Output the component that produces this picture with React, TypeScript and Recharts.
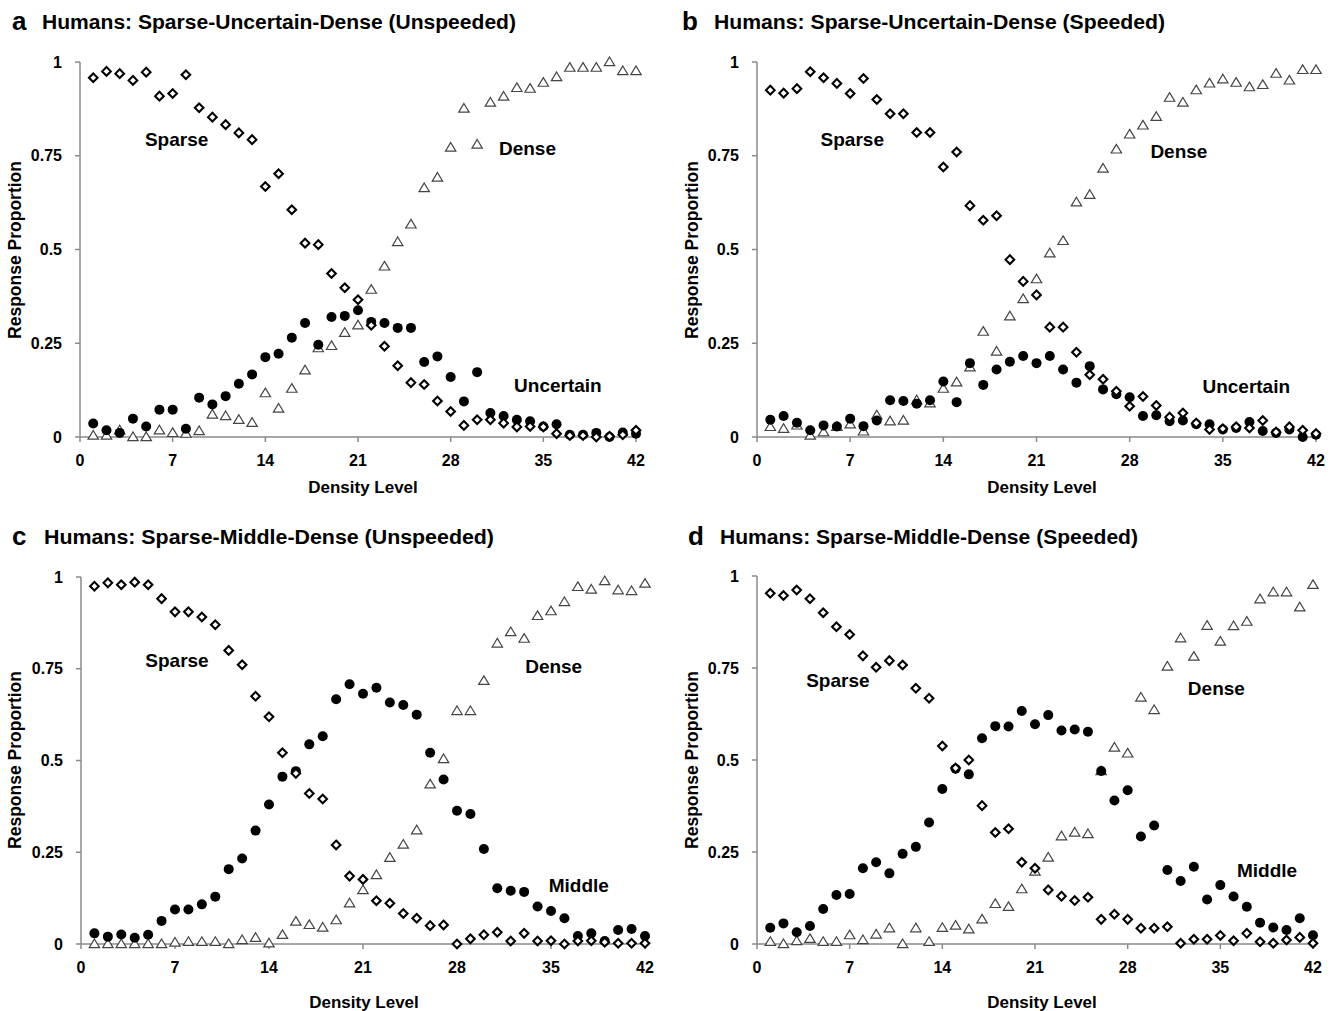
import React from 'react';
import { ScatterChart, Scatter, XAxis, YAxis, ReferenceDot } from 'recharts';

const levels = [1, 2, 3, 4, 5, 6, 7, 8, 9, 10, 11, 12, 13, 14, 15, 16, 17, 18, 19, 20, 21, 22, 23, 24, 25, 26, 27, 28, 29, 30, 31, 32, 33, 34, 35, 36, 37, 38, 39, 40, 41, 42];
const xTicks = [0, 7, 14, 21, 28, 35, 42];
const yTicks = [0, 0.25, 0.5, 0.75, 1];

// Panel a: Sparse-Uncertain-Dense (Unspeeded)
const sparseA = [0.958, 0.975, 0.969, 0.951, 0.973, 0.909, 0.916, 0.966, 0.878, 0.853, 0.833, 0.811, 0.793, 0.668, 0.702, 0.606, 0.517, 0.513, 0.436, 0.398, 0.366, 0.298, 0.242, 0.19, 0.145, 0.14, 0.096, 0.068, 0.031, 0.046, 0.046, 0.037, 0.027, 0.028, 0.027, 0.009, 0.004, 0.004, 0.0, 0.002, 0.006, 0.018];
const denseA = [0.004, 0.004, 0.018, 0.0, 0.0, 0.018, 0.011, 0.009, 0.016, 0.06, 0.056, 0.046, 0.038, 0.117, 0.076, 0.129, 0.178, 0.237, 0.243, 0.278, 0.298, 0.393, 0.455, 0.52, 0.567, 0.664, 0.692, 0.772, 0.876, 0.78, 0.892, 0.908, 0.931, 0.929, 0.945, 0.96, 0.985, 0.985, 0.985, 1.0, 0.976, 0.976];
const uncertainA = [0.036, 0.018, 0.011, 0.049, 0.028, 0.073, 0.073, 0.022, 0.105, 0.087, 0.109, 0.142, 0.167, 0.213, 0.222, 0.265, 0.304, 0.246, 0.32, 0.323, 0.338, 0.307, 0.304, 0.291, 0.291, 0.2, 0.215, 0.16, 0.095, 0.173, 0.064, 0.056, 0.046, 0.042, 0.028, 0.034, 0.006, 0.006, 0.011, 0.0, 0.012, 0.009];

// Panel b: Sparse-Uncertain-Dense (Speeded)
const sparseB = [0.925, 0.917, 0.929, 0.974, 0.958, 0.943, 0.916, 0.956, 0.9, 0.862, 0.862, 0.812, 0.812, 0.72, 0.76, 0.617, 0.578, 0.59, 0.473, 0.415, 0.379, 0.293, 0.293, 0.226, 0.166, 0.154, 0.122, 0.082, 0.108, 0.084, 0.053, 0.064, 0.037, 0.02, 0.022, 0.027, 0.024, 0.044, 0.013, 0.027, 0.018, 0.009];
const denseB = [0.027, 0.022, 0.031, 0.004, 0.013, 0.027, 0.034, 0.015, 0.058, 0.042, 0.044, 0.098, 0.09, 0.129, 0.146, 0.186, 0.281, 0.228, 0.322, 0.368, 0.421, 0.49, 0.523, 0.626, 0.646, 0.716, 0.767, 0.807, 0.831, 0.854, 0.905, 0.892, 0.925, 0.943, 0.954, 0.945, 0.933, 0.939, 0.969, 0.951, 0.979, 0.979];
const uncertainB = [0.046, 0.056, 0.038, 0.018, 0.031, 0.028, 0.049, 0.029, 0.044, 0.098, 0.096, 0.089, 0.098, 0.148, 0.093, 0.197, 0.139, 0.18, 0.201, 0.216, 0.197, 0.216, 0.18, 0.145, 0.189, 0.127, 0.114, 0.106, 0.056, 0.058, 0.042, 0.044, 0.034, 0.034, 0.02, 0.024, 0.04, 0.016, 0.011, 0.02, 0.0, 0.006];

// Panel c: Sparse-Middle-Dense (Unspeeded)
const sparseC = [0.975, 0.984, 0.979, 0.986, 0.979, 0.941, 0.905, 0.905, 0.891, 0.87, 0.8, 0.761, 0.675, 0.619, 0.521, 0.465, 0.41, 0.395, 0.27, 0.185, 0.176, 0.118, 0.111, 0.083, 0.07, 0.05, 0.052, 0.0, 0.014, 0.025, 0.032, 0.008, 0.029, 0.008, 0.009, 0.0, 0.008, 0.009, 0.005, 0.002, 0.002, 0.002];
const denseC = [0.0, 0.0, 0.0, 0.0, 0.0, 0.0, 0.004, 0.006, 0.006, 0.006, 0.0, 0.011, 0.017, 0.002, 0.025, 0.061, 0.052, 0.045, 0.065, 0.111, 0.147, 0.188, 0.235, 0.271, 0.31, 0.435, 0.504, 0.635, 0.635, 0.717, 0.819, 0.85, 0.832, 0.894, 0.907, 0.932, 0.973, 0.966, 0.989, 0.964, 0.962, 0.982];
const middleC = [0.029, 0.02, 0.026, 0.017, 0.025, 0.063, 0.094, 0.094, 0.108, 0.129, 0.204, 0.233, 0.309, 0.38, 0.456, 0.471, 0.544, 0.566, 0.667, 0.708, 0.682, 0.698, 0.658, 0.651, 0.625, 0.521, 0.448, 0.363, 0.354, 0.259, 0.152, 0.145, 0.142, 0.102, 0.09, 0.07, 0.022, 0.029, 0.008, 0.038, 0.041, 0.022];

// Panel d: Sparse-Middle-Dense (Speeded)
const sparseD = [0.953, 0.947, 0.962, 0.938, 0.9, 0.862, 0.841, 0.783, 0.752, 0.77, 0.758, 0.695, 0.668, 0.538, 0.478, 0.5, 0.376, 0.303, 0.313, 0.222, 0.206, 0.147, 0.13, 0.118, 0.127, 0.067, 0.081, 0.067, 0.043, 0.043, 0.047, 0.002, 0.013, 0.013, 0.023, 0.009, 0.029, 0.006, 0.002, 0.011, 0.018, 0.002];
const denseD = [0.006, 0.0, 0.008, 0.014, 0.006, 0.006, 0.024, 0.011, 0.026, 0.043, 0.0, 0.043, 0.006, 0.044, 0.05, 0.04, 0.067, 0.109, 0.101, 0.149, 0.197, 0.235, 0.293, 0.303, 0.299, 0.47, 0.534, 0.518, 0.67, 0.636, 0.754, 0.831, 0.781, 0.865, 0.822, 0.864, 0.876, 0.937, 0.956, 0.956, 0.915, 0.976];
const middleD = [0.044, 0.056, 0.032, 0.049, 0.095, 0.133, 0.136, 0.206, 0.222, 0.192, 0.245, 0.264, 0.33, 0.421, 0.476, 0.461, 0.559, 0.592, 0.591, 0.633, 0.597, 0.622, 0.58, 0.583, 0.577, 0.47, 0.39, 0.418, 0.292, 0.322, 0.201, 0.171, 0.21, 0.121, 0.16, 0.129, 0.101, 0.058, 0.045, 0.038, 0.07, 0.024];

// Annotation labels (data coordinates)
const notesA = [
  { text: 'Sparse', x: 7.3, y: 0.795 },
  { text: 'Dense', x: 33.8, y: 0.771 },
  { text: 'Uncertain', x: 36.1, y: 0.139 },
];
const notesB = [
  { text: 'Sparse', x: 7.16, y: 0.794 },
  { text: 'Dense', x: 31.7, y: 0.763 },
  { text: 'Uncertain', x: 36.76, y: 0.134 },
];
const notesC = [
  { text: 'Sparse', x: 7.15, y: 0.774 },
  { text: 'Dense', x: 35.2, y: 0.757 },
  { text: 'Middle', x: 37.07, y: 0.161 },
];
const notesD = [
  { text: 'Sparse', x: 6.11, y: 0.717 },
  { text: 'Dense', x: 34.7, y: 0.695 },
  { text: 'Middle', x: 38.53, y: 0.201 },
];

const FONT = '"Liberation Sans", Arial, Helvetica, sans-serif';
const AXIS_COLOR = '#8a8a8a';

const toPoints = (vals: number[]) => vals.map((v, i) => ({ x: levels[i], y: v }));

const Diamond = (p: any) => {
  const { cx, cy } = p;
  if (cx == null || cy == null) return null;
  const s = 4.3;
  return (
    <path
      d={`M${cx},${cy - s}L${cx + s},${cy}L${cx},${cy + s}L${cx - s},${cy}Z`}
      fill="#fff"
      stroke="#000"
      strokeWidth={2.1}
    />
  );
};

const Triangle = (p: any) => {
  const { cx, cy } = p;
  if (cx == null || cy == null) return null;
  return (
    <path
      d={`M${cx},${cy - 5}L${cx + 5.2},${cy + 3.6}L${cx - 5.2},${cy + 3.6}Z`}
      fill="#fff"
      stroke="#444"
      strokeWidth={1.2}
    />
  );
};

const Dot = (p: any) => {
  const { cx, cy } = p;
  if (cx == null || cy == null) return null;
  return <circle cx={cx} cy={cy} r={5} fill="#000" />;
};

const tickStyle = { fill: '#000', fontSize: 16, fontWeight: 'bold', fontFamily: FONT };

type Note = { text: string; x: number; y: number };
type PanelProps = {
  left: number;
  top: number;
  plotW: number;
  plotH: number;
  sparse: number[];
  dense: number[];
  mid: number[];
  notes: Note[];
};

function Panel({ left, top, plotW, plotH, sparse, dense, mid, notes }: PanelProps) {
  const yW = 80;
  const W = yW + plotW + 10;
  const H = 20 + plotH + 70;
  return (
    <div style={{ position: 'absolute', left: left - yW, top: top - 20 }}>
      <ScatterChart width={W} height={H} margin={{ top: 20, right: 10, bottom: 0, left: 0 }}>
        <XAxis
          type="number"
          dataKey="x"
          domain={[0, 42]}
          ticks={xTicks}
          interval={0}
          height={70}
          tickSize={5}
          tickMargin={13}
          axisLine={{ stroke: AXIS_COLOR, strokeWidth: 1.5 }}
          tickLine={{ stroke: AXIS_COLOR, strokeWidth: 1.5 }}
          tick={tickStyle}
        />
        <YAxis
          type="number"
          dataKey="y"
          domain={[0, 1]}
          ticks={yTicks}
          interval={0}
          width={yW}
          tickSize={5}
          tickMargin={13}
          axisLine={{ stroke: AXIS_COLOR, strokeWidth: 1.5 }}
          tickLine={{ stroke: AXIS_COLOR, strokeWidth: 1.5 }}
          tick={tickStyle}
          tickFormatter={(v: number) => String(v)}
        />
        <Scatter data={toPoints(dense)} shape={Triangle} isAnimationActive={false} />
        <Scatter data={toPoints(mid)} shape={Dot} isAnimationActive={false} />
        <Scatter data={toPoints(sparse)} shape={Diamond} isAnimationActive={false} />
        {notes.map((n) => (
          <ReferenceDot
            key={n.text}
            x={n.x}
            y={n.y}
            r={0}
            fill="none"
            stroke="none"
            label={{
              value: n.text,
              position: 'center',
              fill: '#000',
              fontSize: 19,
              fontWeight: 'bold',
              fontFamily: FONT,
            }}
          />
        ))}
      </ScatterChart>
    </div>
  );
}

const titles = [
  { letter: 'a', lx: 12, text: 'Humans: Sparse-Uncertain-Dense (Unspeeded)', tx: 42, len: 474, y: 29 },
  { letter: 'b', lx: 682, text: 'Humans: Sparse-Uncertain-Dense (Speeded)', tx: 714, len: 451, y: 29 },
  { letter: 'c', lx: 12, text: 'Humans: Sparse-Middle-Dense (Unspeeded)', tx: 44, len: 450, y: 544 },
  { letter: 'd', lx: 688, text: 'Humans: Sparse-Middle-Dense (Speeded)', tx: 720, len: 418, y: 544 },
];

const axisTitles = [
  { cx: 363, by: 493, yx: 15, yc: 250 },
  { cx: 1042, by: 493, yx: 692, yc: 250 },
  { cx: 364, by: 1008, yx: 15, yc: 760 },
  { cx: 1042, by: 1008, yx: 692, yc: 760 },
];

export default function App() {
  return (
    <div style={{ position: 'absolute', left: 0, top: 0, width: 1336, height: 1011, background: '#fff', overflow: 'hidden' }}>
      <Panel left={80} top={62} plotW={556} plotH={375} sparse={sparseA} dense={denseA} mid={uncertainA} notes={notesA} />
      <Panel left={757} top={62} plotW={559} plotH={375} sparse={sparseB} dense={denseB} mid={uncertainB} notes={notesB} />
      <Panel left={81} top={577} plotW={564} plotH={367} sparse={sparseC} dense={denseC} mid={middleC} notes={notesC} />
      <Panel left={757} top={576} plotW={556} plotH={368} sparse={sparseD} dense={denseD} mid={middleD} notes={notesD} />
      <svg width={1336} height={1011} style={{ position: 'absolute', left: 0, top: 0, pointerEvents: 'none' }}>
        {titles.map((t) => (
          <g key={t.letter} fontFamily={FONT} fontWeight="bold" fill="#000">
            <text x={t.lx} y={t.y + 1} fontSize={26}>{t.letter}</text>
            <text x={t.tx} y={t.y} fontSize={20} textLength={t.len} lengthAdjust="spacingAndGlyphs">{t.text}</text>
          </g>
        ))}
        {axisTitles.map((a, i) => (
          <g key={i} fontFamily={FONT} fontWeight="bold" fill="#000">
            <text x={a.cx} y={a.by} fontSize={17} textAnchor="middle">Density Level</text>
            <text
              transform={`translate(${a.yx},${a.yc}) rotate(-90)`}
              fontSize={17.5}
              textAnchor="middle"
              dominantBaseline="central"
            >
              Response Proportion
            </text>
          </g>
        ))}
      </svg>
    </div>
  );
}
